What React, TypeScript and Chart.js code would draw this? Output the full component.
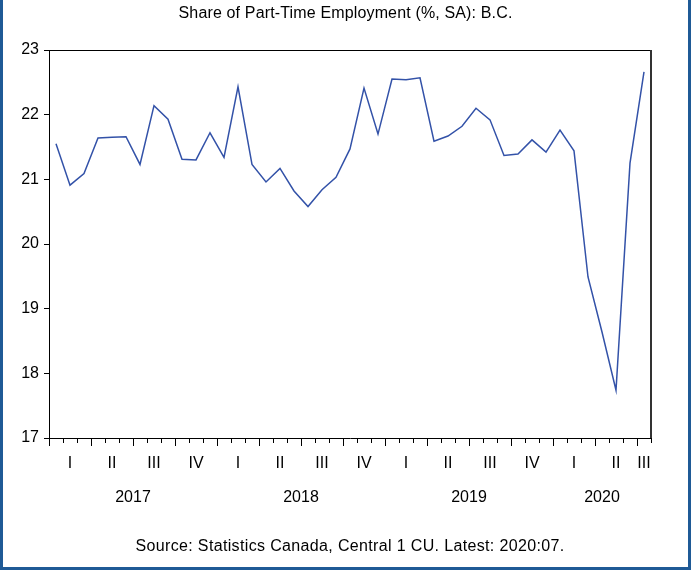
import React, { useEffect, useRef } from "react";
import { Chart, registerables } from "chart.js";

Chart.register(...registerables);

const TITLE = "Share of Part-Time Employment (%, SA): B.C.";
const SOURCE = "Source: Statistics Canada, Central 1 CU. Latest: 2020:07.";

const months = [
  "2017:01", "2017:02", "2017:03", "2017:04", "2017:05", "2017:06",
  "2017:07", "2017:08", "2017:09", "2017:10", "2017:11", "2017:12",
  "2018:01", "2018:02", "2018:03", "2018:04", "2018:05", "2018:06",
  "2018:07", "2018:08", "2018:09", "2018:10", "2018:11", "2018:12",
  "2019:01", "2019:02", "2019:03", "2019:04", "2019:05", "2019:06",
  "2019:07", "2019:08", "2019:09", "2019:10", "2019:11", "2019:12",
  "2020:01", "2020:02", "2020:03", "2020:04", "2020:05", "2020:06",
  "2020:07",
];

const partTimeShare = [
  21.55, 20.91, 21.09, 21.64, 21.65, 21.66, 21.23, 22.14, 21.93, 21.31, 21.3, 21.72,
  21.34, 22.43, 21.23, 20.96, 21.17, 20.82, 20.58, 20.84, 21.03, 21.47, 22.41, 21.7,
  22.55, 22.54, 22.57, 21.59, 21.67, 21.82, 22.1, 21.92, 21.37, 21.39, 21.61, 21.42,
  21.76, 21.44, 19.49, 18.64, 17.74, 21.25, 22.66,
];

const years = ["2017", "2018", "2019", "2020"];
const quarterNames = ["I", "II", "III", "IV"];
const yMin = 17;
const yMax = 23;

const FONT = '"Liberation Sans", Arial, sans-serif';
const FRAME_BLUE = "#1f5a96";
const LINE_BLUE = "#3352a8";

const decorPlugin = {
  id: "decor",
  afterDraw(chart: any) {
    const { ctx, chartArea } = chart;
    const xs = chart.scales.x;
    const n = months.length;
    const step = n > 1 ? xs.getPixelForValue(1) - xs.getPixelForValue(0) : 0;
    const boundary = (i: number) => xs.getPixelForValue(0) - step / 2 + i * step;
    const axisY = chartArea.bottom;

    ctx.save();
    // top and right frame of plot
    ctx.strokeStyle = "#000";
    ctx.lineWidth = 1;
    ctx.beginPath();
    ctx.moveTo(chartArea.left, chartArea.top + 0.5);
    ctx.lineTo(chartArea.right, chartArea.top + 0.5);
    ctx.stroke();
    ctx.strokeStyle = "#333";
    ctx.lineWidth = 2;
    ctx.beginPath();
    ctx.moveTo(chartArea.right, chartArea.top);
    ctx.lineTo(chartArea.right, chartArea.bottom);
    ctx.stroke();

    // month / quarter tick marks
    ctx.strokeStyle = "#000";
    ctx.lineWidth = 1;
    for (let i = 0; i <= n; i++) {
      const x = Math.round(boundary(i)) + 0.5;
      const len = i % 3 === 0 && i < n ? 8 : 5;
      ctx.beginPath();
      ctx.moveTo(x, axisY);
      ctx.lineTo(x, axisY + len);
      ctx.stroke();
    }

    ctx.fillStyle = "#000";
    ctx.font = `16px ${FONT}`;
    ctx.textAlign = "center";
    ctx.textBaseline = "alphabetic";

    // quarter labels
    for (let s = 0; s < n; s += 3) {
      const e = Math.min(s + 3, n);
      const q = Math.floor((s % 12) / 3);
      const cx = (boundary(s) + boundary(e)) / 2;
      ctx.fillText(quarterNames[q], cx, 468);
    }

    // year labels
    years.forEach((yr) => {
      const idx = months.map((m, i) => (m.startsWith(yr) ? i : -1)).filter((i) => i >= 0);
      const s = idx[0];
      const e = idx[idx.length - 1] + 1;
      const cx = (boundary(s) + boundary(e)) / 2;
      ctx.fillText(yr, cx, 502);
    });

    // title and source
    (ctx as any).letterSpacing = "0.15px";
    ctx.fillText(TITLE, chart.width / 2, 18);
    (ctx as any).letterSpacing = "0.35px";
    ctx.fillText(SOURCE, (chartArea.left + chartArea.right) / 2, 551);
    (ctx as any).letterSpacing = "0px";
    ctx.restore();
  },
};

export default function App() {
  const canvasRef = useRef<HTMLCanvasElement | null>(null);

  useEffect(() => {
    const canvas = canvasRef.current;
    if (!canvas) return;
    const chart = new Chart(canvas, {
      type: "line",
      data: {
        labels: months,
        datasets: [
          {
            data: partTimeShare,
            borderColor: LINE_BLUE,
            borderWidth: 1.5,
            pointRadius: 0,
            tension: 0,
            fill: false,
          },
        ],
      },
      options: {
        responsive: false,
        animation: false,
        devicePixelRatio: 1,
        layout: { padding: { top: 50, right: 37, left: 0, bottom: 0 } },
        plugins: {
          legend: { display: false },
          tooltip: { enabled: false },
          title: { display: false },
        },
        scales: {
          x: {
            type: "category",
            offset: true,
            grid: { display: false },
            border: { display: true, color: "#000", width: 1 },
            ticks: { display: false },
            afterFit: (scale: any) => {
              scale.height = 129;
            },
          },
          y: {
            min: yMin,
            max: yMax,
            grid: {
              drawOnChartArea: false,
              drawTicks: true,
              tickLength: 5,
              color: "#000",
            },
            border: { display: true, color: "#000", width: 1 },
            ticks: {
              stepSize: 1,
              padding: 5,
              color: "#000",
              font: { size: 16, family: FONT },
            },
            afterFit: (scale: any) => {
              scale.width = 46;
            },
          },
        },
      },
      plugins: [decorPlugin],
    });
    return () => chart.destroy();
  }, []);

  return (
    <div
      style={{
        position: "absolute",
        left: 0,
        top: 0,
        width: 691,
        height: 570,
        boxSizing: "border-box",
        borderLeft: `3px solid ${FRAME_BLUE}`,
        borderRight: `3px solid ${FRAME_BLUE}`,
        borderBottom: `3px solid ${FRAME_BLUE}`,
        background: "#fff",
      }}
    >
      <canvas
        ref={canvasRef}
        width={685}
        height={567}
        style={{ display: "block", width: 685, height: 567 }}
      />
    </div>
  );
}
